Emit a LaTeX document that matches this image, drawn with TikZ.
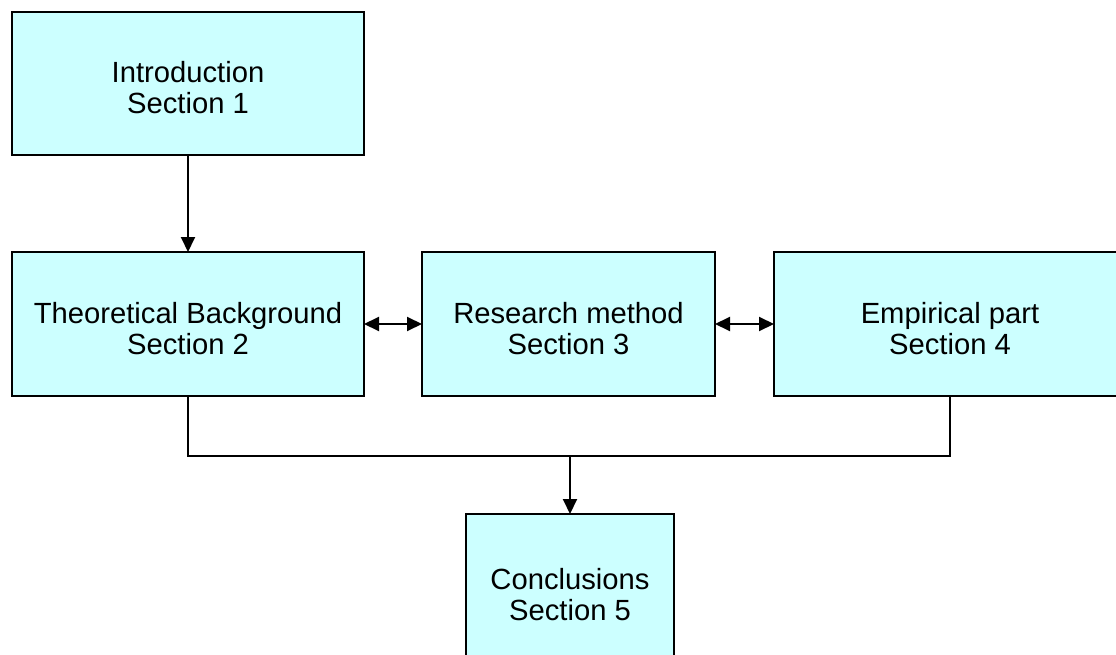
\documentclass[tikz,border=0pt]{standalone}
\usepackage{fontspec}
\setmainfont{Liberation Sans}
\usetikzlibrary{arrows.meta}
\definecolor{boxfill}{HTML}{CCFFFF}
\begin{document}
\begin{tikzpicture}[x=1pt,y=-1pt,
  box/.style={draw=black, fill=boxfill, line width=2pt, inner sep=0pt, outer sep=0pt,
    align=center, text height=61pt, text depth=0pt, font=\fontsize{29.2}{31}\selectfont},
  conn/.style={line width=2pt, draw=black},
  arr/.style={conn, -{Triangle[length=15pt,width=14pt]}},
  darr/.style={conn, {Triangle[length=15pt,width=14pt]}-{Triangle[length=15pt,width=14pt]}}
]
\clip (0,0) rectangle (1116,655);
\fill[white] (0,0) rectangle (1116,655);
\node[box, minimum width=352pt, minimum height=143pt] (intro) at (188,83.5) {Introduction\\Section 1};
\node[box, minimum width=352pt, minimum height=144pt] (theo) at (188,324) {Theoretical Background\\Section 2};
\node[box, minimum width=293pt, minimum height=144pt] (res) at (568.5,324) {Research method\\Section 3};
\node[box, minimum width=352pt, minimum height=144pt] (emp) at (950,324) {Empirical part\\Section 4};
\node[box, minimum width=208pt, minimum height=152pt] (conc) at (570,590) {Conclusions\\Section 5};
\coordinate (j) at (570,456);
\draw[arr] (intro.south) -- (theo.north);
\draw[darr] (theo.east) -- (res.west);
\draw[darr] (res.east) -- (emp.west);
\draw[conn] (theo.south) |- (j) -| (emp.south);
\draw[arr] (j) -- (conc.north);
\end{tikzpicture}
\end{document}
